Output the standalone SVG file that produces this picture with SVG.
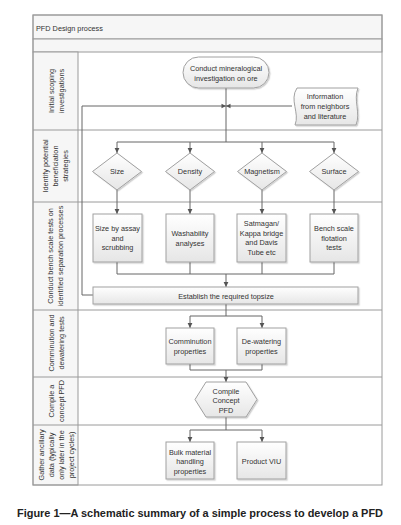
<svg xmlns="http://www.w3.org/2000/svg" width="401" height="525" viewBox="0 0 401 525">
<defs>
<linearGradient id="g" x1="0" y1="0" x2="0" y2="1">
<stop offset="0" stop-color="#ffffff"/>
<stop offset="1" stop-color="#e6e6e6"/>
</linearGradient>
<filter id="sh" x="-10%" y="-10%" width="130%" height="130%">
<feDropShadow dx="1.2" dy="1.2" stdDeviation="0.6" flood-color="#000" flood-opacity="0.18"/>
</filter>
<marker id="a" markerUnits="userSpaceOnUse" markerWidth="6" markerHeight="6" refX="5" refY="3" orient="auto">
<path d="M0,0.6 L5,3 L0,5.4 Z" fill="#555"/>
</marker>
</defs>
<style>
.fr{fill:none;stroke:#9a9a9a;stroke-width:1}
.hd{fill:#f6f6f6;stroke:#9a9a9a;stroke-width:1}
.nd{fill:url(#g);stroke:#a0a0a0;stroke-width:1;filter:url(#sh)}
.t{font-family:"Liberation Sans",Arial,sans-serif;font-size:7.3px;fill:#333;text-anchor:middle}
.tl{font-family:"Liberation Sans",Arial,sans-serif;font-size:7.3px;fill:#333}
.c{fill:none;stroke:#666;stroke-width:1}
.ca{fill:none;stroke:#666;stroke-width:1;marker-end:url(#a)}
.cap{font-family:"Liberation Sans",Arial,sans-serif;font-size:11px;font-weight:bold;fill:#222}
</style>
<rect width="401" height="525" fill="#ffffff"/>
<g id="frame">
<rect x="33" y="15" width="349" height="24" class="hd"/>
<rect x="33" y="39" width="349" height="13" class="hd"/>
<rect x="33" y="52" width="45" height="433" class="hd"/>
<rect x="33" y="15" width="349" height="470" class="fr"/>
<line x1="33" y1="130" x2="382" y2="130" class="fr"/>
<line x1="33" y1="202" x2="382" y2="202" class="fr"/>
<line x1="33" y1="310" x2="382" y2="310" class="fr"/>
<line x1="33" y1="377" x2="382" y2="377" class="fr"/>
<line x1="33" y1="425" x2="382" y2="425" class="fr"/>
<text x="36" y="31" class="tl">PFD Design process</text>
</g>
<g id="lanes">
<text transform="rotate(-90)" class="t"><tspan x="-91" y="53.5">Initial scoping</tspan><tspan x="-91" y="63.5">investigations</tspan></text>
<text transform="rotate(-90)" class="t"><tspan x="-166" y="48">Identify potential</tspan><tspan x="-166" y="58">beneficiation</tspan><tspan x="-166" y="68">strategies</tspan></text>
<text transform="rotate(-90)" class="t"><tspan x="-256" y="52.5">Conduct bench scale tests on</tspan><tspan x="-256" y="62.5">identified separation processes</tspan></text>
<text transform="rotate(-90)" class="t"><tspan x="-343" y="53.5">Comminution and</tspan><tspan x="-343" y="63.5">dewatering tests</tspan></text>
<text transform="rotate(-90)" class="t"><tspan x="-401" y="53.5">Compile a</tspan><tspan x="-401" y="63.5">concept PFD</tspan></text>
<text transform="rotate(-90)" class="t"><tspan x="-455" y="43.5">Gather ancillary</tspan><tspan x="-455" y="53.5">data (typically</tspan><tspan x="-455" y="63.5">only later in the</tspan><tspan x="-455" y="73.5">project cycles)</tspan></text>
</g>
<g id="connectors">
<line x1="226" y1="88" x2="226" y2="142" class="c"/>
<polyline points="292,106 82,106 82,295 93,295" class="c"/>
<path d="M221.5,103.8 L226,106 L221.5,108.2 Z M230.5,103.8 L226,106 L230.5,108.2 Z" fill="#555"/>
<line x1="117" y1="142" x2="334" y2="142" class="c"/>
<line x1="117" y1="142" x2="117" y2="153" class="ca"/>
<line x1="190" y1="142" x2="190" y2="153" class="ca"/>
<line x1="262" y1="142" x2="262" y2="153" class="ca"/>
<line x1="334" y1="142" x2="334" y2="153" class="ca"/>
<line x1="117" y1="190" x2="117" y2="214" class="ca"/>
<line x1="190" y1="190" x2="190" y2="214" class="ca"/>
<line x1="262" y1="190" x2="262" y2="214" class="ca"/>
<line x1="334" y1="190" x2="334" y2="214" class="ca"/>
<line x1="117" y1="262" x2="117" y2="274" class="c"/>
<line x1="190" y1="262" x2="190" y2="274" class="c"/>
<line x1="262" y1="262" x2="262" y2="274" class="c"/>
<line x1="334" y1="262" x2="334" y2="274" class="c"/>
<line x1="117" y1="274" x2="334" y2="274" class="c"/>
<line x1="226" y1="274" x2="226" y2="287" class="ca"/>
<line x1="226" y1="304" x2="226" y2="316" class="c"/>
<line x1="190" y1="316" x2="262" y2="316" class="c"/>
<line x1="190" y1="316" x2="190" y2="328" class="ca"/>
<line x1="262" y1="316" x2="262" y2="328" class="ca"/>
<line x1="190" y1="364" x2="190" y2="370" class="c"/>
<line x1="262" y1="364" x2="262" y2="370" class="c"/>
<line x1="190" y1="370" x2="262" y2="370" class="c"/>
<line x1="226" y1="370" x2="226" y2="382" class="ca"/>
<line x1="226" y1="417" x2="226" y2="430" class="c"/>
<line x1="190" y1="430" x2="262" y2="430" class="c"/>
<line x1="190" y1="430" x2="190" y2="442" class="ca"/>
<line x1="262" y1="430" x2="262" y2="442" class="ca"/>
</g>
<g id="n-mineral">
<rect x="183" y="57" width="86" height="31" rx="15.5" class="nd"/>
<text class="t"><tspan x="226" y="70.5">Conduct mineralogical</tspan><tspan x="226" y="80.5">investigation on ore</tspan></text>
</g>
<g id="n-info">
<path d="M297,88 L358,88 C353,100 361,113 356,125 L295,125 C300,113 289,100 297,88 Z" class="nd"/>
<text class="t"><tspan x="325" y="98.5">Information</tspan><tspan x="325" y="108.5">from neighbors</tspan><tspan x="325" y="118.5">and literature</tspan></text>
</g>
<g id="n-size">
<path d="M117,153 L141.5,171.5 L117,190 L92.5,171.5 Z" class="nd"/>
<text x="117" y="174" class="t">Size</text>
</g>
<g id="n-density">
<path d="M190,153 L214.5,171.5 L190,190 L165.5,171.5 Z" class="nd"/>
<text x="190" y="174" class="t">Density</text>
</g>
<g id="n-magnetism">
<path d="M262,153 L286.5,171.5 L262,190 L237.5,171.5 Z" class="nd"/>
<text x="262" y="174" class="t">Magnetism</text>
</g>
<g id="n-surface">
<path d="M334,153 L358.5,171.5 L334,190 L309.5,171.5 Z" class="nd"/>
<text x="334" y="174" class="t">Surface</text>
</g>
<g id="n-sizeassay">
<rect x="93" y="214" width="49" height="48" class="nd"/>
<text class="t"><tspan x="117.5" y="230.5">Size by assay</tspan><tspan x="117.5" y="240.5">and</tspan><tspan x="117.5" y="250">scrubbing</tspan></text>
</g>
<g id="n-wash">
<rect x="166" y="214" width="48" height="48" class="nd"/>
<text class="t"><tspan x="190" y="235.5">Washability</tspan><tspan x="190" y="245.5">analyses</tspan></text>
</g>
<g id="n-satmagan">
<rect x="237" y="214" width="49" height="48" class="nd"/>
<text class="t"><tspan x="261.5" y="226">Satmagan/</tspan><tspan x="261.5" y="235.5">Kappa bridge</tspan><tspan x="261.5" y="245">and Davis</tspan><tspan x="261.5" y="254.5">Tube etc</tspan></text>
</g>
<g id="n-bench">
<rect x="310" y="214" width="48" height="48" class="nd"/>
<text class="t"><tspan x="334" y="230.5">Bench scale</tspan><tspan x="334" y="240.5">flotation</tspan><tspan x="334" y="250">tests</tspan></text>
</g>
<g id="n-topsize">
<rect x="93" y="287" width="265" height="17" class="nd"/>
<text x="226" y="298.5" class="t">Establish the required topsize</text>
</g>
<g id="n-comminution">
<rect x="166" y="328" width="48" height="36" class="nd"/>
<text class="t"><tspan x="190" y="344">Comminution</tspan><tspan x="190" y="354">properties</tspan></text>
</g>
<g id="n-dewatering">
<rect x="237" y="328" width="49" height="36" class="nd"/>
<text class="t"><tspan x="261.5" y="344">De-watering</tspan><tspan x="261.5" y="354">properties</tspan></text>
</g>
<g id="n-concept">
<path d="M206,382 L246,382 L257,399.5 L246,417 L206,417 L195,399.5 Z" class="nd"/>
<text class="t"><tspan x="226" y="393.5">Compile</tspan><tspan x="226" y="403">Concept</tspan><tspan x="226" y="412.5">PFD</tspan></text>
</g>
<g id="n-bulk">
<rect x="166" y="442" width="48" height="37" class="nd"/>
<text class="t"><tspan x="190" y="454.5">Bulk material</tspan><tspan x="190" y="464">handling</tspan><tspan x="190" y="473.5">properties</tspan></text>
</g>
<g id="n-viu">
<rect x="237" y="442" width="49" height="37" class="nd"/>
<text x="261.5" y="464" class="t">Product VIU</text>
</g>
<text x="17" y="516.5" class="cap" textLength="366" lengthAdjust="spacingAndGlyphs">Figure 1—A schematic summary of a simple process to develop a PFD</text>
</svg>
